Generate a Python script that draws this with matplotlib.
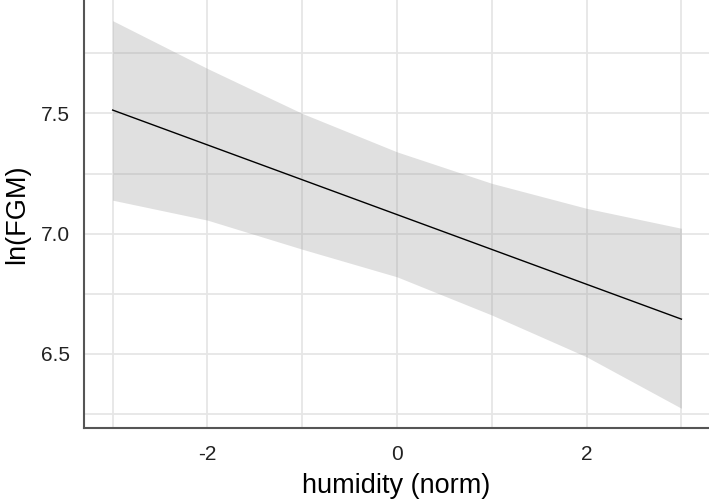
import numpy as np
from matplotlib import pyplot as plt

plt.rcParams['font.family'] = ['Liberation Sans', 'DejaVu Sans']

# values
humidity = [-3, -2, -1, 0, 1, 2, 3]
fit = [7.514, 7.369, 7.224, 7.079, 6.934, 6.789, 6.644]
upper = [7.886, 7.687, 7.500, 7.340, 7.209, 7.105, 7.022]
lower = [7.139, 7.056, 6.935, 6.820, 6.661, 6.487, 6.273]

x_ticks = [-2, 0, 2]
y_ticks = [6.5, 7.0, 7.5]


def plot_fit(save_to='out.png'):
    fig = plt.figure(figsize=(7.09, 4.99), dpi=100)
    ax = fig.add_axes([0.1185, 0.1423, 0.8815, 0.8577])

    ax.fill_between(humidity, lower, upper, color='#999999', alpha=0.3,
                    linewidth=0, zorder=2)
    ax.plot(humidity, fit, color='black', linewidth=1.0, zorder=3)

    ax.set_xlim(-3.302, 3.291)
    ax.set_ylim(6.191, 7.972)
    ax.set_xticks(x_ticks)
    ax.set_xticklabels(['%d' % t for t in x_ticks])
    ax.set_yticks(y_ticks)
    ax.set_yticklabels(['%.1f' % t for t in y_ticks])
    ax.set_xticks(np.arange(-3, 3.5, 1), minor=True)
    ax.set_yticks(np.arange(6.25, 8.0, 0.25), minor=True)

    ax.grid(True, which='both', color='#e6e6e6', linewidth=1.3, zorder=0)
    ax.set_axisbelow(True)

    for side in ['top', 'right']:
        ax.spines[side].set_visible(False)
    for side in ['left', 'bottom']:
        ax.spines[side].set_color('#555555')
        ax.spines[side].set_linewidth(1.5)

    ax.tick_params(axis='both', which='both', length=0, labelsize=15,
                   labelcolor='#222222')
    ax.tick_params(axis='y', pad=10)
    ax.tick_params(axis='x', pad=12)

    ax.set_xlabel('humidity (norm)', fontsize=19.5, labelpad=7)
    ax.set_ylabel('ln(FGM)', fontsize=19.5, labelpad=8)

    fig.savefig(save_to, dpi=100)


if __name__ == '__main__':
    plot_fit()
